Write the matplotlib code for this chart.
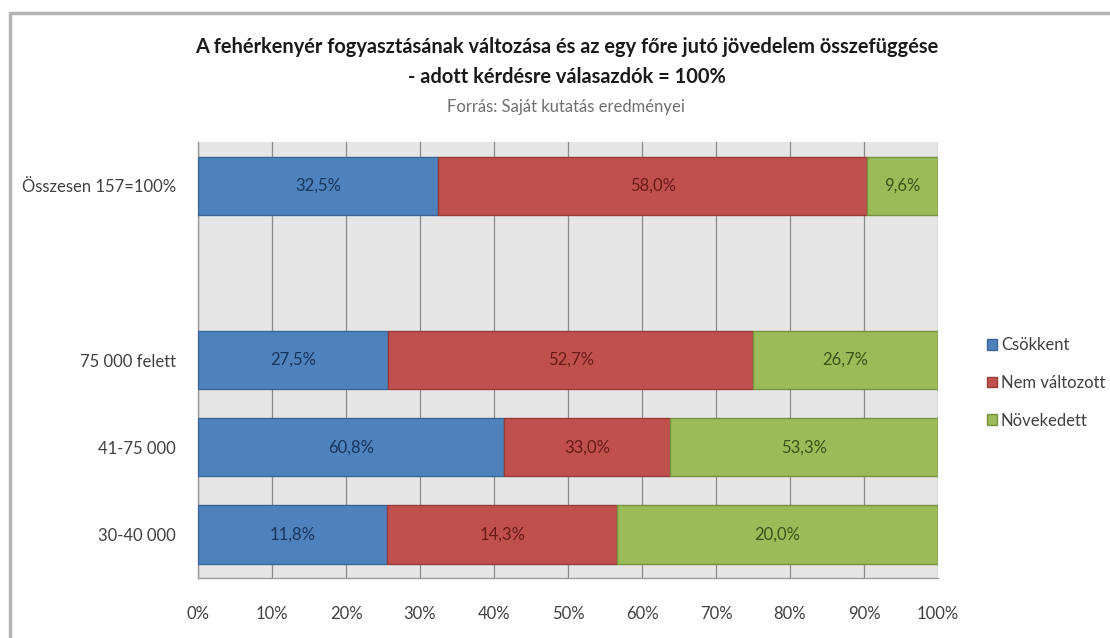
#!/usr/bin/env python
"""White-bread consumption change vs. per-capita income, 100% stacked bars."""

import matplotlib

matplotlib.use("Agg")
import matplotlib.pyplot as plt
from matplotlib.patches import Rectangle
from matplotlib.ticker import FixedLocator, PercentFormatter

plt.rcParams["font.family"] = ["Lato", "DejaVu Sans"]

# income groups, top to bottom
groups = ["Összesen 157=100%", "75 000 felett", "41-75 000", "30-40 000"]
series_names = ["Csökkent", "Nem változott", "Növekedett"]
csokkent = [32.5, 27.5, 60.8, 11.8]
nem_valtozott = [58.0, 52.7, 33.0, 14.3]
novekedett = [9.6, 26.7, 53.3, 20.0]

TITLE_1 = "A fehérkenyér fogyasztásának változása és az egy főre jutó jövedelem összefüggése"
TITLE_2 = "- adott kérdésre válasazdók = 100%"
SOURCE = "Forrás: Saját kutatás eredményei"

FILL = ["#4f81bd", "#c0504d", "#9bbb59"]
EDGE = ["#3b6596", "#983c3a", "#76923c"]
TEXT = ["#17365d", "#6b1a18", "#3f5219"]


def fmt(v):
    return f"{v:.1f}%".replace(".", ",")


def main():
    fig = plt.figure(figsize=(11.1, 6.38), dpi=100)
    ax = fig.add_axes([0.1784, 0.094, 0.6667, 0.6834])

    # one empty slot between the total row and the income rows
    ypos = [4, 2, 1, 0]
    series = [csokkent, nem_valtozott, novekedett]
    totals = [sum(col) for col in zip(*series)]

    left = [0.0] * len(groups)
    for name, vals, fc, ec, tc in zip(series_names, series, FILL, EDGE, TEXT):
        widths = [v / t * 100 for v, t in zip(vals, totals)]
        ax.barh(ypos, widths, left=left, height=0.667, color=fc,
                edgecolor=ec, linewidth=1.0, label=name, zorder=3)
        for y, l, w, v in zip(ypos, left, widths, vals):
            ax.text(l + w / 2, y, fmt(v), ha="center", va="center",
                    fontsize=12, color=tc, zorder=4)
        left = [l + w for l, w in zip(left, widths)]

    ax.set_xlim(0, 100)
    ax.set_ylim(-0.5, 4.5)
    ax.set_facecolor("#e6e6e6")
    ax.xaxis.set_major_locator(FixedLocator(range(0, 101, 10)))
    ax.xaxis.set_major_formatter(PercentFormatter(decimals=0))
    ax.set_yticks(ypos)
    ax.set_yticklabels(groups)
    ax.tick_params(axis="x", length=0, pad=20, labelsize=12, labelcolor="#404040")
    ax.tick_params(axis="y", length=0, pad=16, labelsize=12, labelcolor="#404040")
    ax.grid(axis="x", color="#8a8a8a", linewidth=0.9, zorder=1)
    for side in ("top", "right"):
        ax.spines[side].set_visible(False)
    for side in ("left", "bottom"):
        ax.spines[side].set_color("#9a9a9a")
        ax.spines[side].set_linewidth(1.0)

    fig.text(0.511, 1 - 47 / 638, TITLE_1, ha="center", va="center",
             fontsize=14.4, fontweight="bold", color="#1a1a1a")
    fig.text(0.511, 1 - 77 / 638, TITLE_2, ha="center", va="center",
             fontsize=14.4, fontweight="bold", color="#1a1a1a")
    fig.text(0.51, 1 - 107 / 638, SOURCE, ha="center", va="center",
             fontsize=12, color="#6f6f6f")

    ax.legend(loc="center left", bbox_to_anchor=(0.889, 1 - 383 / 638),
              bbox_transform=fig.transFigure, frameon=False, fontsize=12,
              handlelength=0.6, handleheight=0.6, handletextpad=0.25,
              labelspacing=1.3, borderpad=0, borderaxespad=0,
              labelcolor="#404040")

    # outer chart border, running off the right and bottom edges
    top = 1 - 13 / 638
    fig.add_artist(Rectangle((10 / 1110, -0.2), 1.2, top + 0.2,
                             transform=fig.transFigure, fill=False,
                             edgecolor="#b4b4b4", linewidth=2.5, clip_on=False))

    fig.savefig("out.png", dpi=100)
    plt.close(fig)


if __name__ == "__main__":
    main()
